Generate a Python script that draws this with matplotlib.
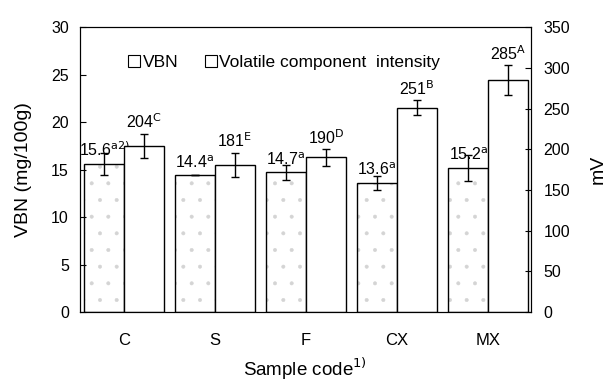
import numpy as np
import matplotlib.pyplot as plt
from matplotlib.patches import Patch

plt.rcParams['font.family'] = ['Liberation Sans', 'DejaVu Sans']
plt.rcParams['hatch.linewidth'] = 0.4

samples = ['C', 'S', 'F', 'CX', 'MX']
vbn = [15.6, 14.4, 14.7, 13.6, 15.2]
vbn_err = [1.2, 0.0, 0.75, 0.7, 1.35]
vbn_sup = ['a2)', 'a', 'a', 'a', 'a']
vol = [204, 181, 190, 251, 285]
vol_err = [15, 15, 10, 9, 18]
vol_sup = ['C', 'E', 'D', 'B', 'A']

x = np.arange(len(samples))
w = 0.44

fig = plt.figure(figsize=(6.06, 3.82), dpi=100)
ax = fig.add_axes([0.132, 0.183, 0.744, 0.746])
ax2 = ax.twinx()

# light speckle fill, then the outline on top
ax.bar(x - w / 2, vbn, w, facecolor='white', edgecolor='#d4d4d4', hatch='.', linewidth=0)
ax.bar(x - w / 2, vbn, w, facecolor='none', edgecolor='black', linewidth=1.0)
ax.errorbar(x - w / 2, vbn, yerr=vbn_err, fmt='none', ecolor='black', elinewidth=1.0, capsize=3)
ax2.bar(x + w / 2, vol, w, facecolor='white', edgecolor='black', linewidth=1.0)
ax2.errorbar(x + w / 2, vol, yerr=vol_err, fmt='none', ecolor='black', elinewidth=1.0, capsize=3)

for xi, v, s in zip(x, vbn, vbn_sup):
    ax.annotate(f'{v}$^{{\\mathrm{{{s}}}}}$', (xi - w / 2, v + 0.5), ha='center', va='bottom', fontsize=11.5)
for xi, v, e, s in zip(x, vol, vol_err, vol_sup):
    ax2.annotate(f'{v}$^{{\\mathrm{{{s}}}}}$', (xi + w / 2, v + e + 3), ha='center', va='bottom', fontsize=11.5)

ax.set_xlim(-0.484, 4.47)
ax.set_ylim(0, 30)
ax2.set_ylim(0, 350)
ax.set_yticks(range(0, 31, 5))
ax2.set_yticks(range(0, 351, 50))
ax.set_xticks(x)
ax.set_xticklabels(samples, fontsize=12)
ax.tick_params(axis='x', length=0, pad=15)
ax.tick_params(axis='y', direction='in', length=4, pad=8, labelsize=11.5)
ax2.tick_params(axis='y', direction='in', length=4, pad=9, labelsize=11.5)

ax.set_ylabel('VBN (mg/100g)', fontsize=14, labelpad=14)
ax2.set_ylabel('mV', fontsize=14, labelpad=14)
ax.set_xlabel('Sample code$^{1)}$', fontsize=13.5, labelpad=6)

handles = [Patch(facecolor='white', edgecolor='black', linewidth=0.8),
           Patch(facecolor='white', edgecolor='black', linewidth=0.8)]
ax.legend(handles, ['VBN', 'Volatile component  intensity'], ncol=2, frameon=False,
          loc='center left', bbox_to_anchor=(0.107, 0.877), fontsize=12.5,
          handlelength=0.7, handleheight=0.7, handletextpad=0.15, columnspacing=1.5,
          borderaxespad=0, borderpad=0)

fig.savefig('out.png', dpi=100)
